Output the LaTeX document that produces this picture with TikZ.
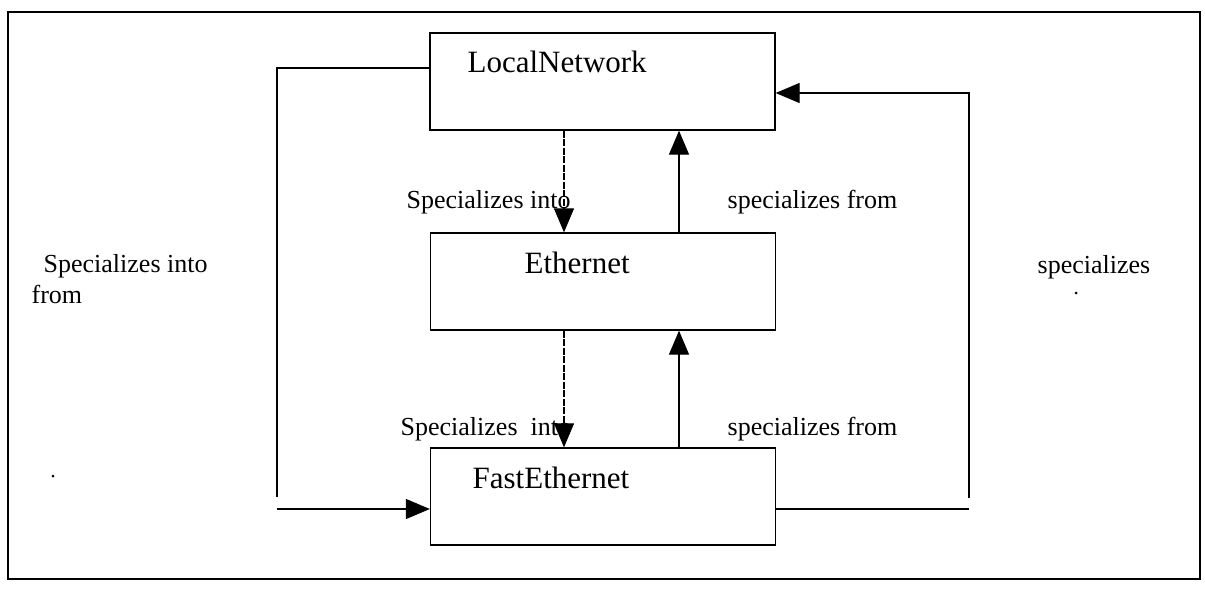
\documentclass[tikz,border=0pt]{standalone}
\usepackage{fontspec}
\setmainfont{Liberation Serif}
\usetikzlibrary{arrows.meta}
\begin{document}
\begin{tikzpicture}[x=1pt,y=-1pt,
  line width=1.3pt,
  box/.style={draw,line width=1.3pt,minimum width=345pt,minimum height=97pt,inner sep=0pt},
  boxtext/.style={anchor=base west,inner sep=0pt,font=\fontsize{31}{36}\selectfont},
  lbl/.style={anchor=base west,inner sep=0pt,font=\fontsize{26}{30}\selectfont},
  arr/.style={-{Triangle[length=24pt,width=20pt]}},
  darr/.style={arr,line width=1.1pt,dash pattern=on 7pt off 1.5pt},
  speck/.style={circle,fill,inner sep=0pt,minimum size=3pt}]
\useasboundingbox (0,0) rectangle (1205,590);
\draw[line width=1.3pt] (8,12) rectangle (1200,579);
% boxes
\node[box] (LN) at (602.5,81.5) {};
\node[box] (ET) at (603,281.5) {};
\node[box] (FE) at (603,496.5) {};
\node[boxtext] (tLN) at (467,72) {LocalNetwork};
\node[boxtext] (tET) at (524,273) {Ethernet};
\node[boxtext] (tFE) at (472,488) {FastEthernet};
% labels
\node[lbl] (s1) at (406,208) {Specializes into};
\node[lbl] (f1) at (727,208) {specializes from};
\node[lbl] (s2) at (400,435) {Specializes\ \ into};
\node[lbl] (f2) at (727,435) {specializes from};
\node[lbl] (sl) at (43,272) {Specializes into};
\node[lbl] (fl) at (31,303) {from};
\node[lbl] (sr) at (1037,273) {specializes};
\node[speck] (dl) at (53,476) {};
\node[speck] (dr) at (1076,293) {};
% vertical connectors
\coordinate (dx) at (564,0);
\coordinate (ux) at (679,0);
\draw[darr] (dx |- LN.south) -- (dx |- ET.north);
\draw[arr] (ux |- ET.north) -- (ux |- LN.south);
\draw[darr] (dx |- ET.south) -- (dx |- FE.north);
\draw[arr] (ux |- FE.north) -- (ux |- ET.south);
% left connector
\coordinate (l1) at (277,68);
\coordinate (l2) at (277,497);
\coordinate (l3) at (277,509);
\draw (l1 -| LN.west) -- (l1) -- (l2);
\draw[arr] (l3) -- (l3 -| FE.west);
% right connector
\coordinate (r1) at (969,509);
\coordinate (r2) at (969,498);
\coordinate (r3) at (969,93);
\draw (r1 -| FE.east) -- (r1);
\draw[arr] (r2) -- (r3) -- (r3 -| LN.east);
\end{tikzpicture}
\end{document}
